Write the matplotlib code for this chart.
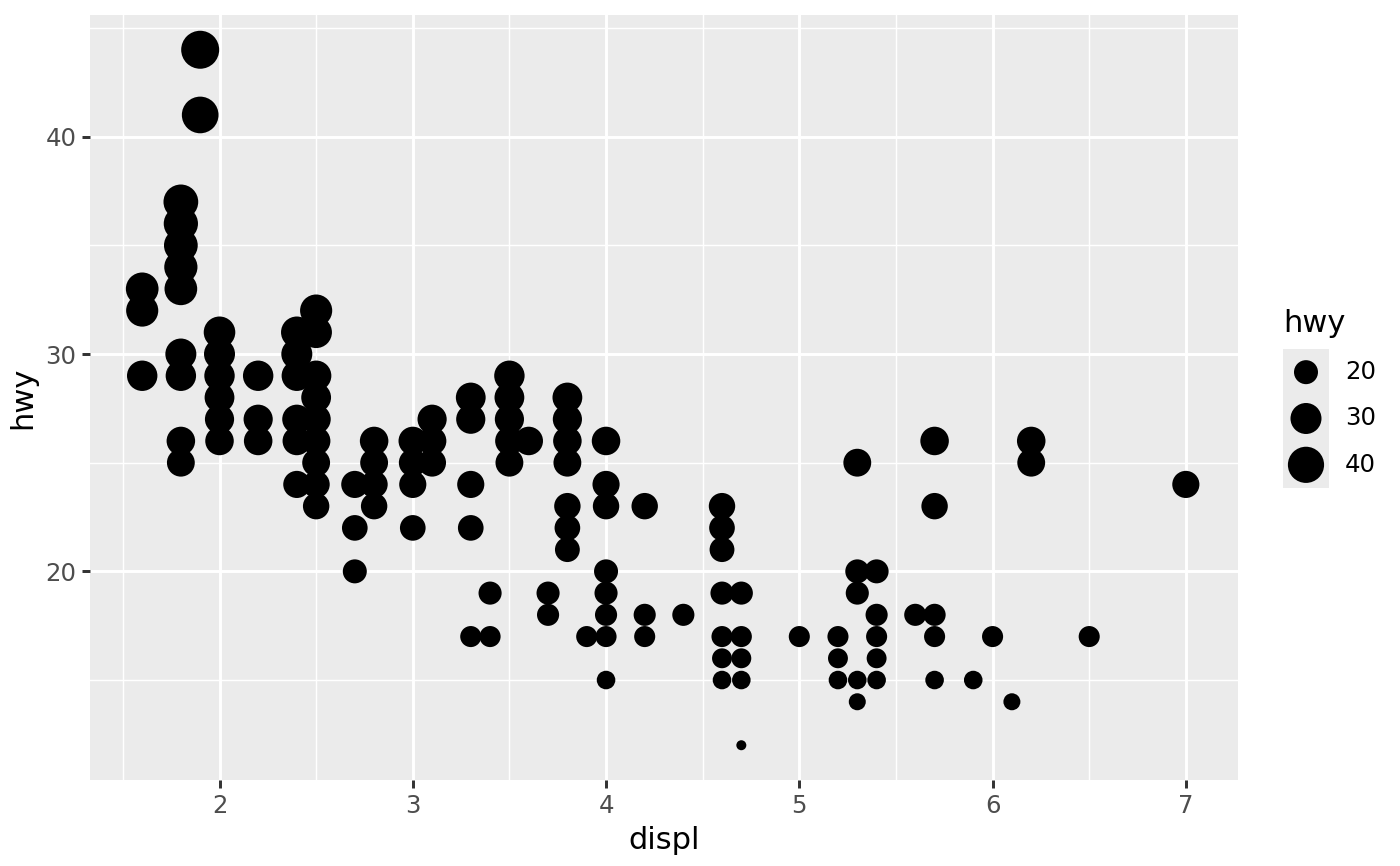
import numpy as np
import matplotlib
matplotlib.use("Agg")
import matplotlib.pyplot as plt

# mpg: displ vs hwy, unique points
displ = ([1.6] * 3 + [1.8] * 9 + [1.9] * 2 + [2.0] * 6 + [2.2] * 3 + [2.4] * 6 +
         [2.5] * 9 + [2.7] * 3 + [2.8] * 4 + [3.0] * 4 + [3.1] * 3 + [3.3] * 5 +
         [3.4] * 2 + [3.5] * 5 + [3.6] + [3.7] * 2 + [3.8] * 7 + [3.9] +
         [4.0] * 8 + [4.2] * 3 + [4.4] + [4.6] * 7 + [4.7] * 5 + [5.0] +
         [5.2] * 3 + [5.3] * 5 + [5.4] * 5 + [5.6] + [5.7] * 5 + [5.9] + [6.0] +
         [6.1] + [6.2] * 2 + [6.5] + [7.0])
hwy = ([33, 32, 29] +
       [37, 36, 35, 34, 33, 30, 29, 26, 25] +
       [44, 41] +
       [31, 30, 29, 28, 27, 26] +
       [29, 27, 26] +
       [31, 30, 29, 27, 26, 24] +
       [32, 31, 29, 28, 27, 26, 25, 24, 23] +
       [24, 22, 20] +
       [26, 25, 24, 23] +
       [26, 25, 24, 22] +
       [27, 26, 25] +
       [28, 27, 24, 22, 17] +
       [19, 17] +
       [29, 28, 27, 26, 25] +
       [26] +
       [19, 18] +
       [28, 27, 26, 25, 23, 22, 21] +
       [17] +
       [26, 24, 23, 20, 19, 18, 17, 15] +
       [23, 18, 17] +
       [18] +
       [23, 22, 21, 19, 17, 16, 15] +
       [19, 17, 16, 15, 12] +
       [17] +
       [17, 16, 15] +
       [25, 20, 19, 15, 14] +
       [20, 18, 17, 16, 15] +
       [18] +
       [26, 23, 18, 17, 15] +
       [15] + [17] + [14] + [26, 25] + [17] + [24])
legend_breaks = [20, 30, 40]

displ = np.array(displ, dtype=float)
hwy = np.array(hwy, dtype=float)
lo, hi = hwy.min(), hwy.max()


def marker_area(v):
    # ggplot scale_size (area palette, range 1..6) -> pixel diameter -> points^2
    size = 1 + 5 * np.sqrt((np.asarray(v, dtype=float) - lo) / (hi - lo))
    d_px = 10 + 5.6 * (size - 1)
    d_pt = d_px * 72 / 200
    return d_pt ** 2


fig = plt.figure(figsize=(7, 4.33), dpi=200)
ax = fig.add_axes([0.0643, 0.0993, 0.82, 0.8834])
ax.set_facecolor("#EBEBEB")

ax.scatter(displ, hwy, s=marker_area(hwy), c="black", linewidths=0, zorder=3)

xr = displ.max() - displ.min()
yr = hwy.max() - hwy.min()
ax.set_xlim(displ.min() - 0.05 * xr, displ.max() + 0.05 * xr)
ax.set_ylim(hwy.min() - 0.05 * yr, hwy.max() + 0.05 * yr)

ax.set_xticks([2, 3, 4, 5, 6, 7])
ax.set_xticks([1.5, 2.5, 3.5, 4.5, 5.5, 6.5], minor=True)
ax.set_yticks([20, 30, 40])
ax.set_yticks([15, 25, 35, 45], minor=True)
ax.grid(which="major", color="white", linewidth=1.07, zorder=0)
ax.grid(which="minor", color="white", linewidth=0.53, zorder=0)
ax.set_axisbelow(True)
for sp in ax.spines.values():
    sp.set_visible(False)
ax.tick_params(which="major", length=2.75, width=1.07, color="#333333",
               labelsize=8.8, labelcolor="#4D4D4D", pad=2.2)
ax.tick_params(which="minor", length=0)
ax.set_xlabel("displ", fontsize=11, labelpad=3)
ax.set_ylabel("hwy", fontsize=11, labelpad=3)

# legend for size
lax = fig.add_axes([0.9164, 0.4365, 0.0329, 0.1605])
lax.set_facecolor("#EBEBEB")
lax.set_xlim(0, 1)
lax.set_ylim(len(legend_breaks), 0)
ky = np.arange(len(legend_breaks)) + 0.5
lax.scatter([0.5] * len(legend_breaks), ky, s=marker_area(legend_breaks),
            c="black", linewidths=0)
for y, b in zip(ky, legend_breaks):
    lax.text(1.35, y, str(b), fontsize=8.8, va="center", ha="left",
             transform=lax.transData, clip_on=False)
lax.set_xticks([])
lax.set_yticks([])
for sp in lax.spines.values():
    sp.set_visible(False)
fig.text(0.9164, 1 - 323 / 866, "hwy", fontsize=11, ha="left", va="center")

fig.savefig("out.png", dpi=200)
